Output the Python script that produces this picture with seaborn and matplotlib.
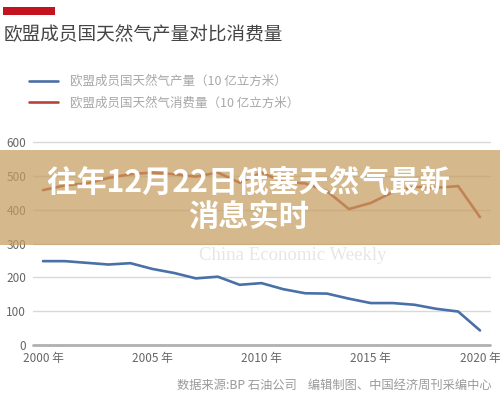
import numpy as np
import pandas as pd
import matplotlib
matplotlib.use("Agg")
import matplotlib.pyplot as plt
from matplotlib.patches import Rectangle
import seaborn as sns

years = list(range(2000, 2021))
production = [248, 248, 243, 238, 242, 225, 213, 197, 202, 178, 183,
              165, 153, 152, 137, 124, 124, 119, 107, 99, 43]
consumption = [458, 472, 478, 494, 505, 510, 505, 498, 510, 480, 510,
               482, 478, 455, 402, 420, 452, 468, 465, 470, 378]
series_names = ["欧盟成员国天然气产量（10 亿立方米）", "欧盟成员国天然气消费量（10 亿立方米）"]
series_colors = ["#4a70a8", "#b8433b"]
x_ticks = [2000, 2005, 2010, 2015, 2020]
x_tick_labels = ["2000 年", "2005 年", "2010 年", "2015 年", "2020 年"]
y_ticks = [0, 100, 200, 300, 400, 500, 600]

title = "欧盟成员国天然气产量对比消费量"
source = "数据来源:BP 石油公司    编辑制图、中国经济周刊采编中心"
banner_1 = "往年12月22日俄塞天然气最新"
banner_2 = "消息实时"

df = pd.DataFrame({
    "year": years * 2,
    "value": production + consumption,
    "series": [series_names[0]] * len(years) + [series_names[1]] * len(years),
})

sns.set_style("white")
plt.rcParams["font.family"] = ["Noto Sans CJK SC", "DejaVu Sans"]

fig = plt.figure(figsize=(5.0, 3.97), dpi=100)
fig.patch.set_facecolor("white")
ax = fig.add_axes([0.066, 0.131, 0.914, 0.511])

sns.lineplot(data=df, x="year", y="value", hue="series", palette=series_colors,
             hue_order=series_names, ax=ax, legend=False, linewidth=1.9)

ax.set_xlim(2000 - 10 / 21.85, 2020 + 10 / 21.85)
ax.set_ylim(0, 600)
ax.set_xticks(x_ticks)
ax.set_xticklabels(x_tick_labels)
ax.set_yticks(y_ticks)
ax.set_xlabel("")
ax.set_ylabel("")
for s in ax.spines.values():
    s.set_visible(False)
ax.tick_params(axis="both", length=0, labelsize=8.5, colors="#666666")
ax.tick_params(axis="y", pad=5)
ax.tick_params(axis="x", pad=5)
for yv in y_ticks[1:]:
    ax.axhline(yv, color="#d9d9d9", linewidth=1.0, zorder=0, clip_on=False)
ax.axhline(0, color="#b0b0b0", linewidth=2.0, zorder=0.5, clip_on=False)

# watermark
fig.text(0.585, 1 - 256 / 397, "China Economic Weekly", ha="center", va="center",
         fontsize=13.5, color="#e6e6e6", family=["Liberation Serif", "DejaVu Serif"], zorder=0)

# header
fig.patches.append(Rectangle((0.006, 1 - 15 / 397), 0.104, 8 / 397, transform=fig.transFigure,
                             facecolor="#c3131f", edgecolor="none"))
fig.text(0.007, 1 - 35 / 397, title, ha="left", va="center", fontsize=13.4, color="#454545")

handles = [plt.Line2D([], [], color=c, linewidth=1.9) for c in series_colors]
leg = fig.legend(handles, series_names, loc="upper left", bbox_to_anchor=(0.058, 1 - 75 / 397),
                 frameon=False, fontsize=9, labelcolor="#a8a8a8", handlelength=2.3,
                 handletextpad=0.95, labelspacing=0.68, borderpad=0, borderaxespad=0)

fig.text(0.984, 1 - 385 / 397, source, ha="right", va="center", fontsize=8.8, color="#9a9a9a")

# overlay banner
fig.patches.append(Rectangle((0, 1 - 245 / 397), 1, 95 / 397, transform=fig.transFigure,
                             facecolor="#c59d5e", edgecolor="none", alpha=0.72, zorder=5))
fig.text(0.497, 1 - 183 / 397, banner_1, ha="center", va="center", fontsize=21.8,
         color="white", fontweight="bold", zorder=6)
fig.text(0.497, 1 - 217 / 397, banner_2, ha="center", va="center", fontsize=21.8,
         color="white", fontweight="bold", zorder=6)

fig.savefig("out.png", dpi=100, facecolor="white")
